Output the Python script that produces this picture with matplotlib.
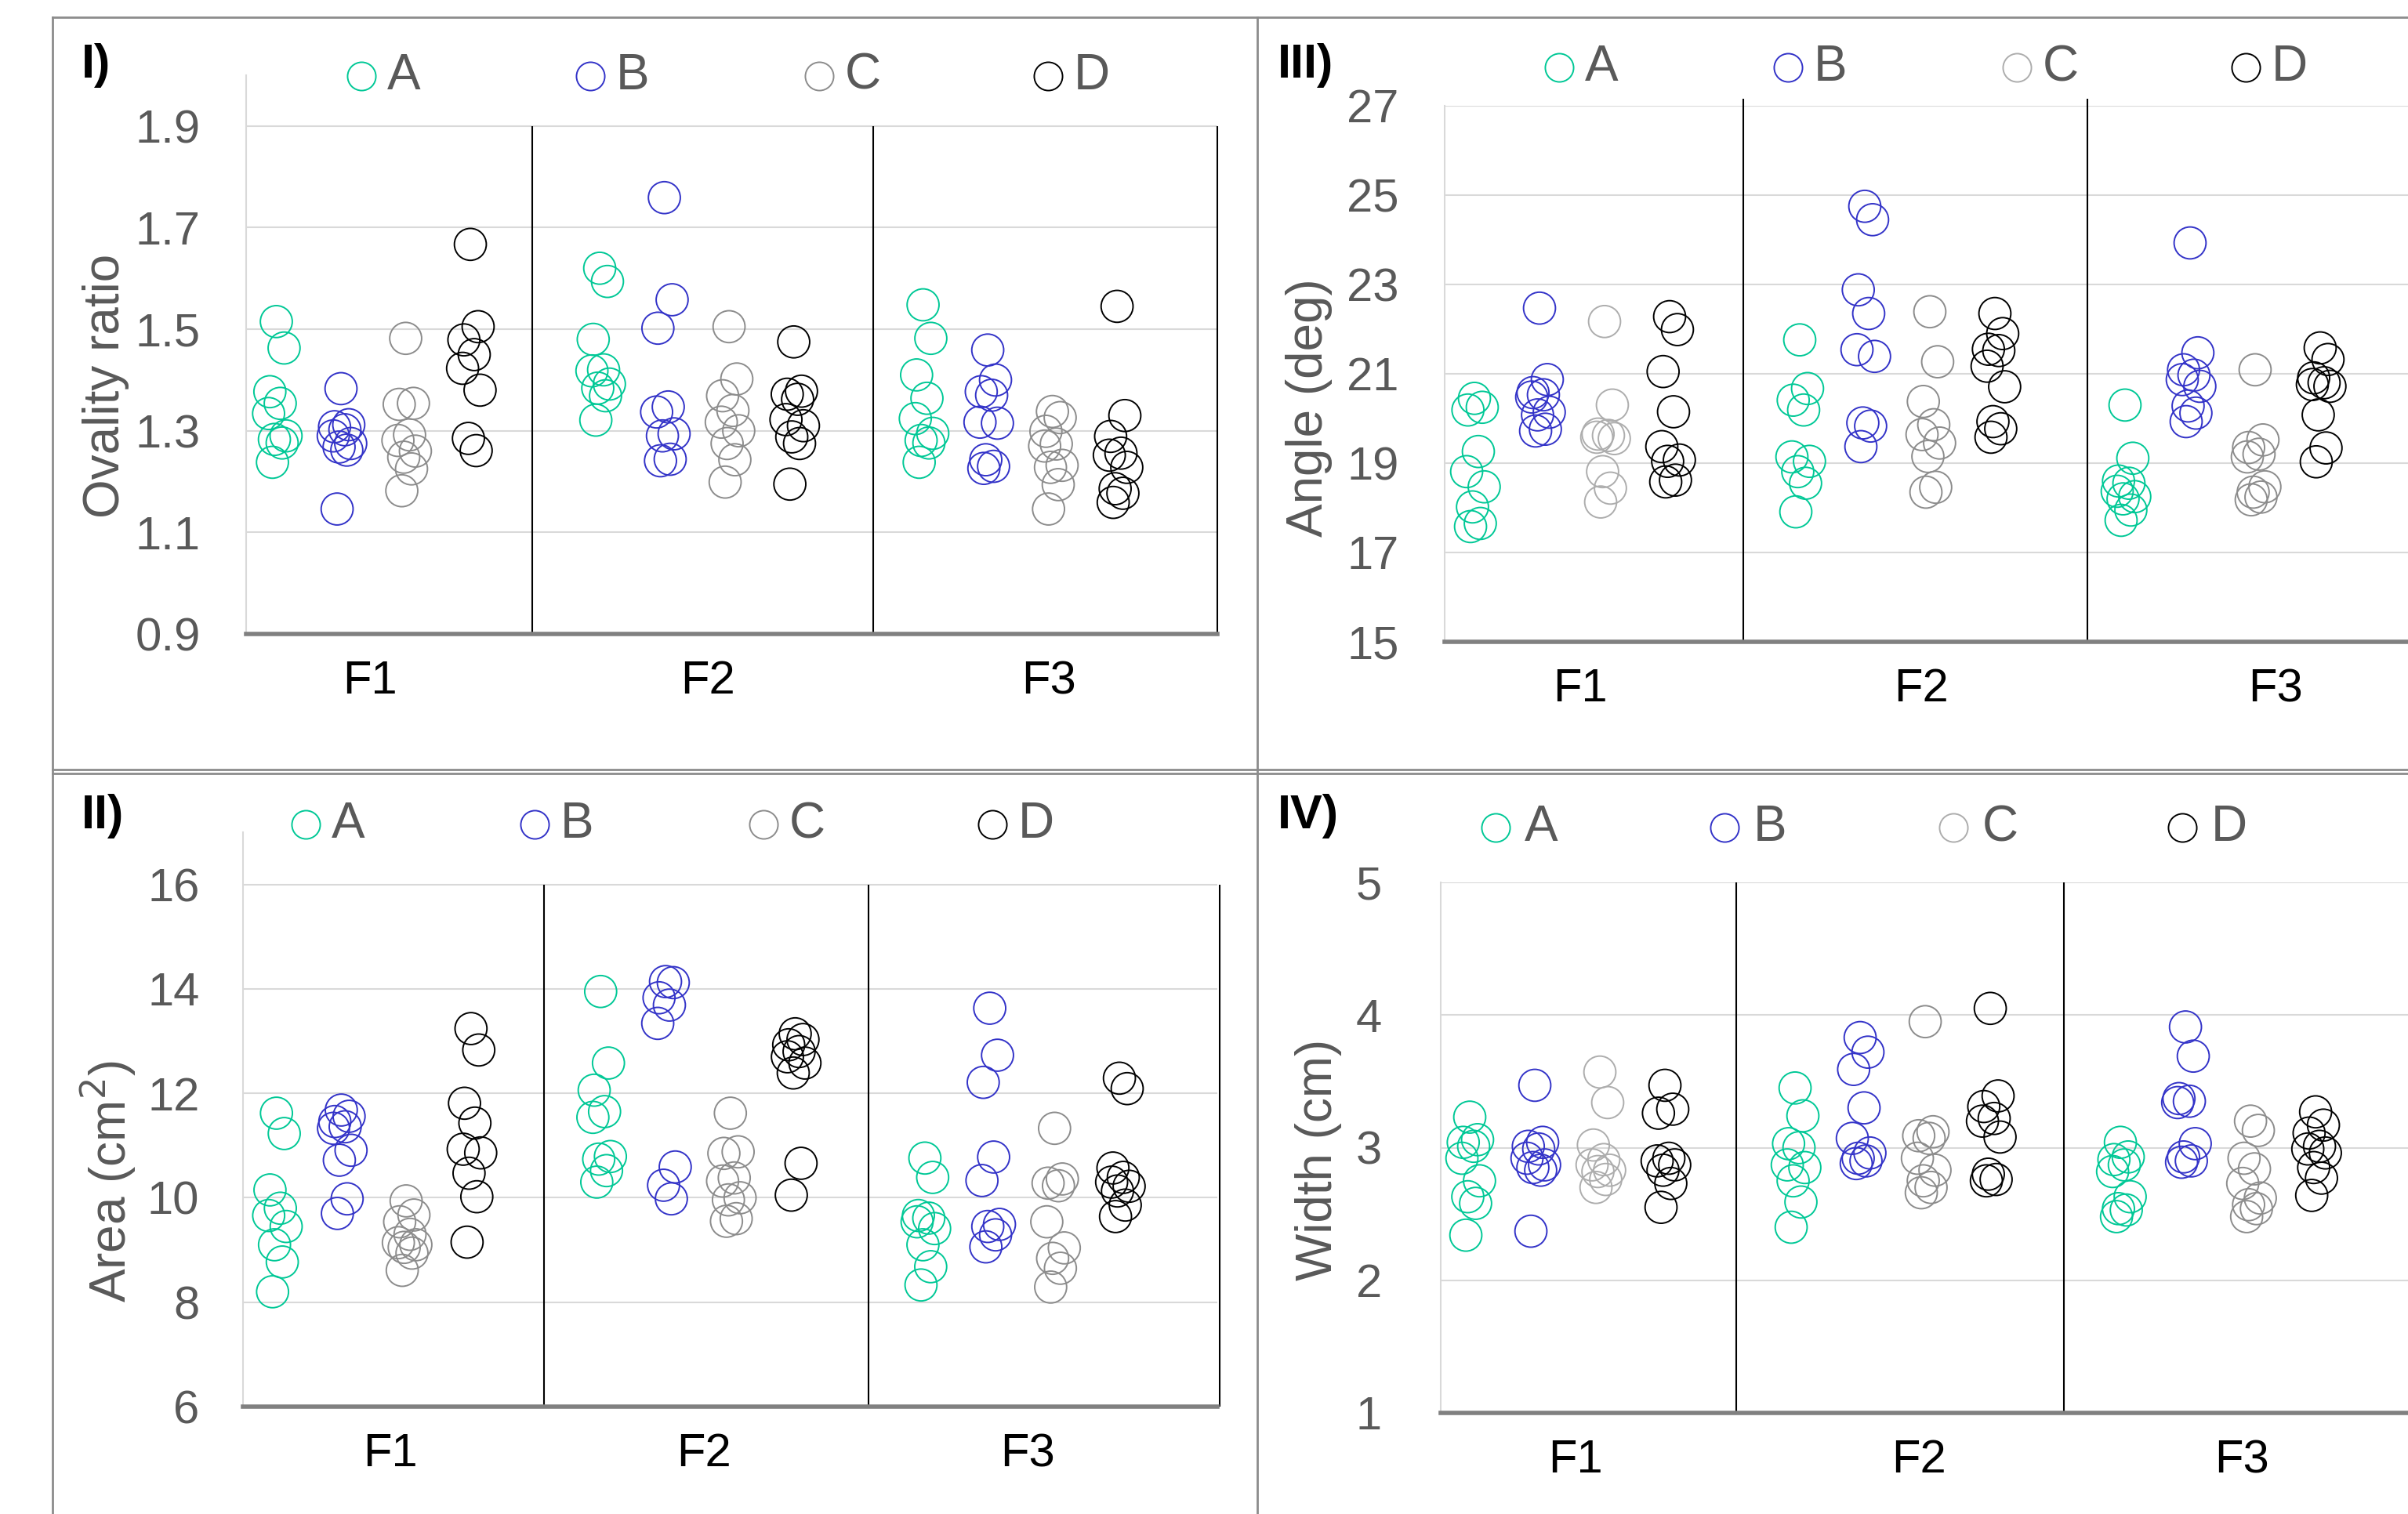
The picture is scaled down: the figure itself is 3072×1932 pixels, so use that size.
import matplotlib
matplotlib.use('Agg')
import matplotlib.pyplot as plt
from matplotlib.lines import Line2D

plt.rcParams['font.family'] = ['Liberation Sans', 'DejaVu Sans']

groups = ['F1', 'F2', 'F3']
series = ['A', 'B', 'C', 'D']

# I) ovality ratio, one list per group F1, F2, F3
oval_A = [[1.515, 1.463, 1.377, 1.354, 1.334, 1.29, 1.283, 1.276, 1.238],
          [1.62, 1.594, 1.48, 1.42, 1.418, 1.392, 1.384, 1.369, 1.321],
          [1.548, 1.482, 1.41, 1.364, 1.324, 1.295, 1.281, 1.276, 1.238]]
oval_B = [[1.383, 1.312, 1.308, 1.302, 1.29, 1.275, 1.268, 1.262, 1.146],
          [1.759, 1.558, 1.502, 1.347, 1.337, 1.294, 1.29, 1.244, 1.241],
          [1.459, 1.40, 1.377, 1.37, 1.317, 1.315, 1.243, 1.23, 1.226]]
oval_C = [[1.482, 1.354, 1.352, 1.292, 1.281, 1.26, 1.248, 1.225, 1.182],
          [1.505, 1.402, 1.369, 1.34, 1.317, 1.30, 1.275, 1.243, 1.199],
          [1.338, 1.326, 1.299, 1.274, 1.27, 1.232, 1.228, 1.194, 1.146]]
oval_D = [[1.667, 1.505, 1.479, 1.45, 1.423, 1.38, 1.285, 1.261],
          [1.475, 1.378, 1.372, 1.362, 1.322, 1.31, 1.288, 1.275, 1.195],
          [1.545, 1.33, 1.289, 1.256, 1.252, 1.228, 1.186, 1.177, 1.159]]

# II) area (cm2)
area_A = [[11.62, 11.23, 10.15, 9.80, 9.66, 9.45, 9.10, 8.77, 8.20],
          [13.95, 12.58, 12.06, 11.65, 11.54, 10.79, 10.74, 10.52, 10.30],
          [10.76, 10.39, 9.66, 9.61, 9.54, 9.41, 9.10, 8.68, 8.33]]
area_B = [[11.68, 11.56, 11.46, 11.36, 11.33, 10.91, 10.72, 9.98, 9.70],
          [14.14, 14.12, 13.83, 13.69, 13.34, 10.59, 10.24, 9.98],
          [13.63, 12.73, 12.21, 10.78, 10.33, 9.49, 9.45, 9.29, 9.06]]
area_C = [[9.94, 9.67, 9.54, 9.30, 9.14, 9.10, 9.05, 8.94, 8.61],
          [11.62, 10.88, 10.85, 10.38, 10.32, 10.00, 9.96, 9.60, 9.55],
          [11.33, 10.36, 10.28, 10.23, 9.54, 9.04, 8.84, 8.65, 8.29]]
area_D = [[13.24, 12.83, 11.81, 11.43, 10.93, 10.86, 10.47, 10.02, 9.15],
          [13.14, 13.03, 12.93, 12.80, 12.70, 12.58, 12.39, 10.66, 10.05],
          [12.29, 12.09, 10.57, 10.39, 10.30, 10.22, 10.13, 9.86, 9.64]]

# III) angle (deg)
angle_A = [[20.45, 20.25, 20.19, 19.26, 18.81, 18.47, 18.02, 17.65, 17.58],
           [21.76, 20.67, 20.41, 20.19, 19.14, 19.04, 18.81, 18.55, 17.91],
           [20.30, 19.11, 18.60, 18.55, 18.37, 18.25, 18.20, 17.95, 17.72]]
angle_B = [[22.47, 20.87, 20.58, 20.53, 20.48, 20.14, 20.08, 19.76, 19.72],
           [24.75, 24.45, 22.88, 22.35, 21.54, 21.39, 19.90, 19.83, 19.37],
           [23.93, 21.47, 21.09, 20.97, 20.87, 20.72, 20.28, 20.12, 19.93]]
angle_C = [[22.17, 20.30, 19.65, 19.62, 19.58, 19.55, 18.81, 18.44, 18.13],
           [22.39, 21.27, 20.38, 19.86, 19.64, 19.45, 19.15, 18.46, 18.35],
           [21.09, 19.52, 19.35, 19.20, 19.14, 18.47, 18.35, 18.24, 18.18]]
angle_D = [[22.28, 21.99, 21.05, 20.15, 19.37, 19.07, 19.04, 18.62, 18.58],
           [22.35, 21.90, 21.55, 21.52, 21.17, 20.71, 19.93, 19.77, 19.58],
           [21.58, 21.32, 20.91, 20.80, 20.76, 20.72, 20.08, 19.34, 19.03]]

# IV) width (cm)
width_A = [[3.23, 3.06, 3.04, 3.01, 2.92, 2.75, 2.63, 2.58, 2.34],
           [3.45, 3.24, 3.03, 3.00, 2.87, 2.85, 2.75, 2.59, 2.40],
           [3.04, 2.93, 2.91, 2.87, 2.82, 2.63, 2.54, 2.53, 2.48]]
width_B = [[3.47, 3.04, 3.01, 2.99, 2.92, 2.87, 2.85, 2.83, 2.37],
           [3.83, 3.72, 3.59, 3.30, 3.07, 2.96, 2.92, 2.90, 2.88],
           [3.91, 3.69, 3.37, 3.35, 3.34, 3.03, 2.93, 2.90, 2.89]]
width_C = [[3.57, 3.34, 3.02, 2.91, 2.87, 2.83, 2.82, 2.76, 2.70],
           [3.95, 3.12, 3.09, 3.07, 2.92, 2.83, 2.75, 2.70, 2.66],
           [3.20, 3.13, 2.92, 2.84, 2.73, 2.62, 2.57, 2.54, 2.48]]
width_D = [[3.47, 3.29, 3.26, 2.92, 2.90, 2.87, 2.83, 2.73, 2.55],
           [4.05, 3.39, 3.31, 3.22, 3.20, 3.08, 2.80, 2.76, 2.75],
           [3.27, 3.17, 3.11, 3.01, 2.99, 2.96, 2.85, 2.77, 2.64]]

# styles
W, H = 3072, 1932
colors = ['#00C896', '#3333C8', '#8C8C8C', '#000000']
light_gray = '#ADADAD'
text_gray = '#595959'
grid_gray = '#D9D9D9'
jit = [0.0, 0.12, -0.1, 0.06, -0.12, 0.15, -0.03, 0.09, -0.06, 0.03]


def fx(x):
    return x / W


def fy(y):
    return 1 - y / H


fig = plt.figure(figsize=(W / 100, H / 100), dpi=100)

panels = [
    dict(label='I)', data=[oval_A, oval_B, oval_C, oval_D], ylabel='Ovality ratio',
         box=(314, 96, 1553, 809), xlim=(0.533, 15.55), ylim=(0.9, 2.0),
         yticks=[0.9, 1.1, 1.3, 1.5, 1.7, 1.9], fmt='{:.1f}', pad=42,
         seps=[4.96, 10.23, 15.55], sep_top=1.9, xt=[2.45, 7.67, 12.95],
         light=False, ylab=(135, 492), lab=(104, 84), leg=(461, 97, 33)),
    dict(label='III)', data=[angle_A, angle_B, angle_C, angle_D], ylabel='Angle (deg)',
         box=(1843, 135, 3072, 819), xlim=(0.542, 15.35), ylim=(15, 27),
         yticks=[15, 17, 19, 21, 23, 25, 27], fmt='{:.0f}', pad=42,
         seps=[5.13, 10.42], sep_top=27.15, xt=[2.63, 7.87, 13.31],
         light=True, ylab=(1670, 520), lab=(1630, 83), leg=(1989, 86, 33)),
    dict(label='II)', data=[area_A, area_B, area_C, area_D], ylabel='Area (cm$^2$)',
         box=(310, 1062, 1553, 1795), xlim=(0.484, 15.51), ylim=(6, 17),
         yticks=[6, 8, 10, 12, 14, 16], fmt='{:.0f}', pad=40,
         seps=[5.12, 10.13, 15.55], sep_top=16.0, xt=[2.76, 7.59, 12.59],
         light=False, ylab=(138, 1507), lab=(104, 1042), leg=(390, 1052, 33)),
    dict(label='IV)', data=[width_A, width_B, width_C, width_D], ylabel='Width (cm)',
         box=(1838, 1126, 3072, 1803), xlim=(0.554, 15.42), ylim=(1, 5),
         yticks=[1, 2, 3, 4, 5], fmt='{:.0f}', pad=54,
         seps=[5.1, 10.13], sep_top=5.0, xt=[2.63, 7.9, 12.87],
         light=True, ylab=(1682, 1480), lab=(1630, 1042), leg=(1908, 1056, 37)),
]

for p in panels:
    x0, y0, x1, y1 = p['box']
    ax = fig.add_axes([fx(x0), fy(y1), (x1 - x0) / W, (y1 - y0) / H])
    for s in range(4):
        for g in range(3):
            vals = p['data'][s][g]
            xs = [g * 5 + s + 1 + jit[i % len(jit)] for i in range(len(vals))]
            col = colors[s]
            if s == 2 and g == 0 and p['light']:
                col = light_gray
            ax.scatter(xs, vals, s=860, facecolors='none', edgecolors=col,
                       linewidths=1.4, zorder=3, clip_on=False)

    ax.set_xlim(*p['xlim'])
    ax.set_ylim(*p['ylim'])
    ax.set_yticks(p['yticks'], [p['fmt'].format(v) for v in p['yticks']])
    ax.set_xticks(p['xt'], groups)
    ax.tick_params(axis='y', length=0, pad=p['pad'], labelsize=43, labelcolor=text_gray)
    ax.tick_params(axis='x', length=0, pad=24, labelsize=43, labelcolor='black')
    ax.yaxis.grid(True, color=grid_gray, lw=1.5)
    ax.set_axisbelow(True)
    for side in ['top', 'right', 'bottom']:
        ax.spines[side].set_visible(False)
    ax.spines['left'].set_color(grid_gray)
    ax.spines['left'].set_linewidth(1.5)

    # group separators and thick base line
    ax.vlines(p['seps'], p['ylim'][0], p['sep_top'], colors='black', lw=1.5,
              zorder=2, clip_on=False)
    ax.axhline(p['ylim'][0], color='#808080', lw=4, zorder=4, clip_on=False)

    fig.text(fx(p['ylab'][0]), fy(p['ylab'][1]), p['ylabel'], rotation=90,
             ha='center', va='center', fontsize=46, color=text_gray)
    fig.text(fx(p['lab'][0]), fy(p['lab'][1]), p['label'], ha='left', va='center',
             fontsize=44, fontweight='bold', color='black')

    # legend row
    lx, ly, off = p['leg']
    for s, name in enumerate(series):
        cx = lx + s * 292
        col = colors[s]
        if s == 2 and p['light']:
            col = light_gray
        fig.add_artist(Line2D([fx(cx)], [fy(ly)], marker='o', markersize=26,
                              mfc='none', mec=col, mew=1.4, transform=fig.transFigure))
        fig.text(fx(cx + off), fy(ly), name, ha='left', va='center',
                 fontsize=46, color=text_gray)

# panel frames
frame = dict(color='#8C8C8C', lw=2, transform=fig.transFigure)
fig.add_artist(Line2D([fx(67), fx(67)], [fy(22), fy(H)], **frame))
fig.add_artist(Line2D([fx(1604), fx(1604)], [fy(22), fy(H)], **frame))
fig.add_artist(Line2D([fx(67), fx(W)], [fy(22), fy(22)], **frame))
fig.add_artist(Line2D([fx(67), fx(W)], [fy(982), fy(982)], **frame))
fig.add_artist(Line2D([fx(67), fx(W)], [fy(987), fy(987)], **frame))

fig.savefig('out.png', dpi=100)
